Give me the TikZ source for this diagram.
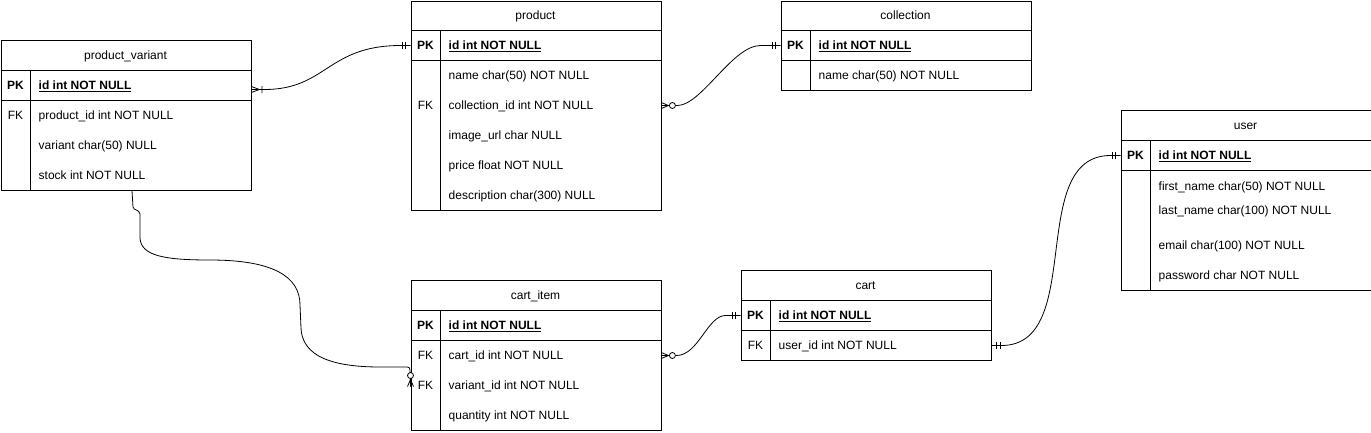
\documentclass[tikz,border=0pt]{standalone}
\usepackage{fontspec}
\setmainfont{Liberation Sans}
\usetikzlibrary{calc}
\begin{document}
\begin{tikzpicture}[x=1pt,y=-1pt,
  tbl/.style={draw, line width=0.9pt, rectangle, inner sep=0pt, minimum width=250pt, anchor=north west},
  sep/.style={line width=0.9pt},
  txt/.style={inner sep=0pt, anchor=west, text height=8.6pt, text depth=0pt, font=\fontsize{12}{14}\selectfont},
  pktxt/.style={txt, font=\fontsize{12}{14}\selectfont\bfseries},
  hdr/.style={inner sep=0pt, text height=8.6pt, text depth=0pt, font=\fontsize{12}{14}\selectfont},
  pkl/.style={hdr, font=\fontsize{12}{14}\selectfont\bfseries},
  conn/.style={line width=0.8pt},
  mandone/.pic={\draw[conn] (5,-3.5) -- (5,3.5) (8.5,-3.5) -- (8.5,3.5);},
  zeromany/.pic={\draw[conn] (0,-3) -- (7,0) -- (0,3) (0,0) -- (7,0); \draw[conn, fill=white] (11,0) circle[radius=3];},
  onemany/.pic={\draw[conn] (0,-3) -- (8,0) -- (0,3) (0,0) -- (8,0) (10.5,-3.5) -- (10.5,3.5);},
]
\useasboundingbox (0,0) rectangle (1371,432);
\fill[white] (0,0) rectangle (1371,432);

% ---------- product_variant ----------
\node[tbl, minimum height=150pt] (pv) at (0.5,40) {};
\draw[sep] (0.5,70) -- (250.5,70) (0.5,100) -- (250.5,100) (30.5,70) -- (30.5,190);
\node[hdr] (pvh) at (125.5,55.5) {product\_variant};
\node[pkl] (pvk0) at (15.5,85.5) {PK};
\node[pktxt] (pvpk) at (38.5,85.5) {\underline{id int NOT NULL}};
\node[hdr] (pvk1) at (15.5,115.5) {FK};
\node[txt] (pv1) at (38.5,115.5) {product\_id int NOT NULL};
\node[txt] (pv2) at (38.5,145.5) {variant char(50) NULL};
\node[txt] (pv3) at (38.5,175.5) {stock int NOT NULL};

% ---------- product ----------
\node[tbl, minimum height=209.5pt] (prod) at (410.5,0.5) {};
\draw[sep] (410.5,30) -- (660.5,30) (410.5,60) -- (660.5,60) (440.5,30) -- (440.5,210);
\node[hdr] (prodh) at (535.5,15.5) {product};
\node[pkl] (prodk0) at (425.5,45.5) {PK};
\node[pktxt] (prodpk) at (448.5,45.5) {\underline{id int NOT NULL}};
\node[txt] (prod1) at (448.5,75.5) {name char(50) NOT NULL};
\node[hdr] (prodk2) at (425.5,105.5) {FK};
\node[txt] (prod2) at (448.5,105.5) {collection\_id int NOT NULL};
\node[txt] (prod3) at (448.5,135.5) {image\_url char NULL};
\node[txt] (prod4) at (448.5,165.5) {price float NOT NULL};
\node[txt] (prod5) at (448.5,195.5) {description char(300) NULL};

% ---------- collection ----------
\node[tbl, minimum height=89.5pt] (coll) at (780.5,0.5) {};
\draw[sep] (780.5,30) -- (1030.5,30) (780.5,60) -- (1030.5,60) (810.5,30) -- (810.5,90);
\node[hdr] (collh) at (905.5,15.5) {collection};
\node[pkl] (collk0) at (795.5,45.5) {PK};
\node[pktxt] (collpk) at (818.5,45.5) {\underline{id int NOT NULL}};
\node[txt] (coll1) at (818.5,75.5) {name char(50) NOT NULL};

% ---------- user ----------
\node[tbl, minimum height=180pt] (usr) at (1120.5,110) {};
\draw[sep] (1120.5,140) -- (1370.5,140) (1120.5,170) -- (1370.5,170) (1150.5,140) -- (1150.5,290);
\node[hdr] (usrh) at (1245.5,125.5) {user};
\node[pkl] (usrk0) at (1135.5,155.5) {PK};
\node[pktxt] (usrpk) at (1158.5,155.5) {\underline{id int NOT NULL}};
\node[txt] (usr1) at (1158.5,186) {first\_name char(50) NOT NULL};
\node[txt] (usr2) at (1158.5,210.5) {last\_name char(100) NOT NULL};
\node[txt] (usr3) at (1158.5,245.5) {email char(100) NOT NULL};
\node[txt] (usr4) at (1158.5,275.5) {password char NOT NULL};

% ---------- cart ----------
\node[tbl, minimum height=90pt] (cart) at (740.5,270) {};
\draw[sep] (740.5,300) -- (990.5,300) (740.5,330) -- (990.5,330) (770.5,300) -- (770.5,360);
\node[hdr] (carth) at (865.5,285.5) {cart};
\node[pkl] (cartk0) at (755.5,315.5) {PK};
\node[pktxt] (cartpk) at (778.5,315.5) {\underline{id int NOT NULL}};
\node[hdr] (cartk1) at (755.5,345.5) {FK};
\node[txt] (cart1) at (778.5,345.5) {user\_id int NOT NULL};

% ---------- cart_item ----------
\node[tbl, minimum height=150pt] (ci) at (410.5,280) {};
\draw[sep] (410.5,310) -- (660.5,310) (410.5,340) -- (660.5,340) (440.5,310) -- (440.5,430);
\node[hdr] (cih) at (535.5,295.5) {cart\_item};
\node[pkl] (cik0) at (425.5,325.5) {PK};
\node[pktxt] (cipk) at (448.5,325.5) {\underline{id int NOT NULL}};
\node[hdr] (cik1) at (425.5,355.5) {FK};
\node[txt] (ci1) at (448.5,355.5) {cart\_id int NOT NULL};
\node[hdr] (cik2) at (425.5,385.5) {FK};
\node[txt] (ci2) at (448.5,385.5) {variant\_id int NOT NULL};
\node[txt] (ci3) at (448.5,415.5) {quantity int NOT NULL};

% ---------- connectors ----------
% product_variant -> product
\coordinate (e1a) at ($(pv.east |- pvpk)+(0,4)$);
\coordinate (e1b) at (prod.west |- prodpk);
\draw[conn] (e1a) -- ++(13,0) .. controls +(62,0) and +(-73,0) .. ($(e1b)+(-10,0)$) -- (e1b);
\pic at (e1a) {onemany};
\pic[rotate=180] at (e1b) {mandone};

% product -> collection
\coordinate (e2a) at (prod.east |- prod2);
\coordinate (e2b) at (coll.west |- collpk);
\draw[conn] (e2a) -- ++(16,0) .. controls +(24,0) and +(-28,0) .. ($(e2b)+(-20,0)$) -- (e2b);
\pic at (e2a) {zeromany};
\pic[rotate=180] at (e2b) {mandone};

% product_variant -> cart_item
\coordinate (e3a) at ($(pv.south west)+(131.5,0)$);
\coordinate (e3b) at ($(ci.west |- ci2)+(0,1)$);
\draw[conn] (e3a) -- (133,207) .. controls (134,211) and (139,209) .. (140,214) -- (140,238)
  .. controls (141,256) and (165,260) .. (210,260)
  .. controls (272,260) and (300,276) .. (300,305) -- (301,328)
  .. controls (302,350) and (320,367) .. (380,367) -- (404,367)
  .. controls (410,367) .. (410,373) -- (e3b);
\pic[rotate=90] at (e3b) {zeromany};

% cart_item -> cart
\coordinate (e4a) at (ci.east |- ci1);
\coordinate (e4b) at (cart.west |- cartpk);
\draw[conn] (e4a) -- ++(15,0) .. controls +(22,0) and +(-18,0) .. ($(e4b)+(-15,0)$) -- (e4b);
\pic at (e4a) {zeromany};
\pic[rotate=180] at (e4b) {mandone};

% cart -> user
\coordinate (e5a) at (cart.east |- cart1);
\coordinate (e5b) at (usr.west |- usrpk);
\draw[conn] (e5a) -- ++(10,0) .. controls +(85,0) and +(-85,0) .. ($(e5b)+(-10,0)$) -- (e5b);
\pic at (e5a) {mandone};
\pic[rotate=180] at (e5b) {mandone};
\end{tikzpicture}
\end{document}
